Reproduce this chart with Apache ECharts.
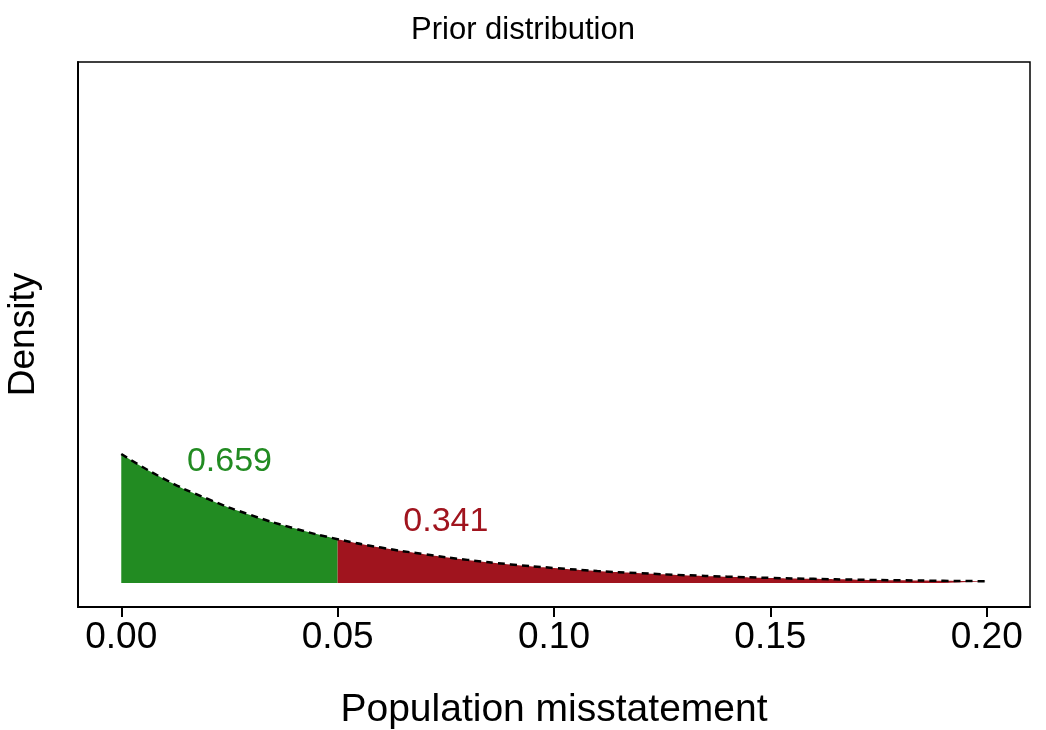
<!DOCTYPE html>
<html lang="en">
<head>
    <meta charset="UTF-8">
    <title>Prior distribution</title>
    <script src="https://cdn.jsdelivr.net/npm/echarts@6/dist/echarts.min.js"></script>
</head>
<body style="margin:0">
<div id="main" style="width:1046px;height:730px;"></div>
<script>
    // density at steps of 0.01
    var xs = [0.00, 0.01, 0.02, 0.03, 0.04, 0.05, 0.06, 0.07, 0.08, 0.09, 0.10,
              0.11, 0.12, 0.13, 0.14, 0.15, 0.16, 0.17, 0.18, 0.19, 0.20];
    var density = [21.5, 17.3, 14.0, 11.3, 9.1, 7.3, 5.9, 4.8, 3.85, 3.1, 2.5,
                   2.0, 1.63, 1.31, 1.06, 0.85, 0.69, 0.55, 0.45, 0.36, 0.29];
    var limit = 0.05;
    var tickValues = [0, 0.05, 0.10, 0.15, 0.20];
    var areaLabels = [['0.659', 0.025, 20.2, '#228b22'], ['0.341', 0.075, 10.2, '#a0141e']];

    var all = [], low = [], high = [];
    for (var i = 0; i < xs.length; i++) {
        all.push([xs[i], density[i]]);
        if (xs[i] <= limit) low.push([xs[i], density[i]]);
        if (xs[i] >= limit) high.push([xs[i], density[i]]);
    }

    var font = 'Liberation Sans, Arial, sans-serif';
    var myChart = echarts.init(document.getElementById('main'));
    var option = {
        animation: false,
        title: {
            text: 'Prior distribution', left: 'center', top: 10,
            textStyle: {fontFamily: font, fontSize: 31, fontWeight: 'normal', color: '#000'}
        },
        grid: {left: 78, right: 16, top: 62, bottom: 123, show: true, borderColor: '#000', borderWidth: 1.5,
               outerBoundsMode: 'none', containLabel: false},
        xAxis: {
            type: 'value', min: -0.01, max: 0.21,
            name: 'Population misstatement', nameLocation: 'middle', nameGap: 84,
            nameTextStyle: {fontFamily: font, fontSize: 39, color: '#000'},
            axisLine: {show: true, onZero: false, lineStyle: {color: '#000', width: 2}},
            axisTick: {show: true, customValues: tickValues, length: 10, lineStyle: {color: '#000', width: 2}},
            axisLabel: {customValues: tickValues, fontFamily: font, fontSize: 37, color: '#000', margin: 12,
                formatter: function (v) { return v.toFixed(2); }},
            splitLine: {show: false}
        },
        yAxis: {
            type: 'value', min: -4, max: 86.8,
            name: 'Density', nameLocation: 'middle', nameGap: 36,
            nameTextStyle: {fontFamily: font, fontSize: 37, color: '#000'},
            axisLine: {show: true, onZero: false, lineStyle: {color: '#000', width: 2}},
            axisTick: {show: false}, axisLabel: {show: false}, splitLine: {show: false}
        },
        series: [
            {type: 'line', data: low, smooth: true, symbol: 'none', lineStyle: {width: 0},
             areaStyle: {color: '#228b22', opacity: 1, origin: 0}},
            {type: 'line', data: high, smooth: true, symbol: 'none', lineStyle: {width: 0},
             areaStyle: {color: '#a0141e', opacity: 1, origin: 0}},
            {type: 'line', data: all, smooth: true, symbol: 'none',
             lineStyle: {color: '#000', width: 2.5, type: [7, 5]}},
            {type: 'scatter', symbolSize: 1, silent: true, itemStyle: {opacity: 0},
             data: areaLabels.map(function (a) {
                 return {value: [a[1], a[2]], label: {show: true, formatter: a[0], color: a[3], opacity: 1,
                     fontFamily: font, fontSize: 34, position: 'inside'}};
             })}
        ]
    };
    myChart.setOption(option);
</script>
</body>
</html>
